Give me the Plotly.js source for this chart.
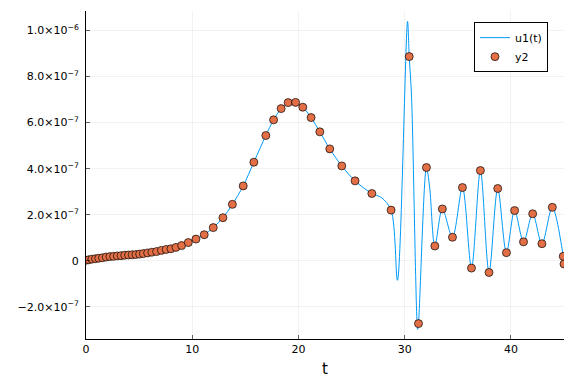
<!DOCTYPE html>
<html>
<head>
<meta charset="utf-8">
<script src="https://cdn.plot.ly/plotly-3.0.1.min.js"></script>
<style>html,body{margin:0;padding:0;background:#fff;}#plot{width:576px;height:384px;}</style>
</head>
<body>
<div id="plot"></div>
<script>
// Sample points (y2), y in units of 1e-7
const dotT = [0, 0.25, 0.55, 0.9, 1.2, 1.55, 1.9, 2.25, 2.6, 2.95, 3.3, 3.65, 4.0, 4.35, 4.7, 5.05, 5.4, 5.8, 6.2, 6.65, 7.1, 7.55, 8.0, 8.47, 9.0, 9.63, 10.35, 11.13, 11.98, 12.89, 13.78, 14.80, 15.80, 16.93, 17.66, 18.37, 19.03, 19.73, 20.41, 21.19, 22.01, 22.95, 24.08, 25.33, 26.91, 28.72, 30.43, 31.30, 32.05, 32.84, 33.55, 34.50, 35.44, 36.29, 37.13, 37.94, 38.76, 39.58, 40.35, 41.19, 42.05, 42.92, 43.90, 44.93, 45.0];
const dotY = [0.02, 0.04, 0.07, 0.09, 0.11, 0.13, 0.16, 0.18, 0.19, 0.21, 0.22, 0.24, 0.25, 0.26, 0.27, 0.29, 0.31, 0.34, 0.37, 0.40, 0.45, 0.49, 0.52, 0.58, 0.66, 0.79, 0.94, 1.13, 1.44, 1.87, 2.45, 3.25, 4.28, 5.44, 6.12, 6.61, 6.87, 6.88, 6.67, 6.22, 5.60, 4.86, 4.12, 3.47, 2.92, 2.20, 8.87, -2.73, 4.05, 0.64, 2.25, 1.02, 3.18, -0.32, 3.92, -0.51, 3.14, 0.35, 2.18, 0.82, 2.04, 0.74, 2.32, 0.19, -0.14];
// Extra turning points of the continuous curve u1(t) between samples
const extraT = [27.8, 29.32, 30.27, 30.65, 31.22, 32.35];
const extraY = [2.75, -0.85, 10.4, 7.1, -2.98, 3.2];
// Tick labels
const yTickVals = [-2, 0, 2, 4, 6, 8, 10];
const yTickText = ['−2.0×10<sup>−7</sup>', '0', '2.0×10<sup>−7</sup>', '4.0×10<sup>−7</sup>', '6.0×10<sup>−7</sup>', '8.0×10<sup>−7</sup>', '1.0×10<sup>−6</sup>'];
const xTickVals = [0, 10, 20, 30, 40];
const scale = 1e-7;

const pts = dotT.map((t, i) => [t, dotY[i]]).concat(extraT.map((t, i) => [t, extraY[i]]));
pts.sort((a, b) => a[0] - b[0]);
const lineT = pts.map(p => p[0]);
const lineY = pts.map(p => p[1] * scale);

const traces = [
  {x: lineT, y: lineY, type: 'scatter', mode: 'lines', name: 'u1(t)',
   line: {color: '#009AFA', width: 1, shape: 'spline', smoothing: 0.9}},
  {x: dotT, y: dotY.map(v => v * scale), type: 'scatter', mode: 'markers', name: 'y2',
   marker: {color: '#E26F46', size: 8, line: {color: 'rgba(0,0,0,0.85)', width: 0.8}}}
];

const font = {family: 'DejaVu Sans, sans-serif', size: 11, color: '#000'};
const layout = {
  width: 576, height: 384,
  paper_bgcolor: '#fff', plot_bgcolor: '#fff',
  margin: {l: 86, r: 12, t: 11, b: 45, pad: 0},
  font: font,
  showlegend: true,
  legend: {x: 0.9665, y: 0.966, xanchor: 'right', yanchor: 'top', bgcolor: '#fff',
           bordercolor: '#000', borderwidth: 1, font: {family: 'DejaVu Sans, sans-serif', size: 11, color: '#000'},
           tracegroupgap: 0, itemwidth: 30},
  xaxis: {range: [0, 45], tickvals: xTickVals, ticktext: xTickVals.map(String),
          showgrid: true, gridcolor: 'rgba(0,0,0,0.1)', gridwidth: 0.5, zeroline: false,
          showline: true, linecolor: '#000', linewidth: 1, ticks: 'inside', ticklen: 4,
          tickcolor: '#000', tickwidth: 0.6, tickfont: font,
          title: {text: 't', font: {family: 'DejaVu Sans, sans-serif', size: 15, color: '#000'}, standoff: 8}},
  yaxis: {range: [-3.4e-7, 1.085e-6], tickvals: yTickVals.map(v => v * scale), ticktext: yTickText,
          showgrid: true, gridcolor: 'rgba(0,0,0,0.1)', gridwidth: 0.5, zeroline: false,
          showline: true, linecolor: '#000', linewidth: 1, ticks: 'inside', ticklen: 4,
          tickcolor: '#000', tickwidth: 0.6, tickfont: font, ticklabelstandoff: 4}
};
Plotly.newPlot('plot', traces, layout, {displayModeBar: false, staticPlot: true});
</script>
</body>
</html>
